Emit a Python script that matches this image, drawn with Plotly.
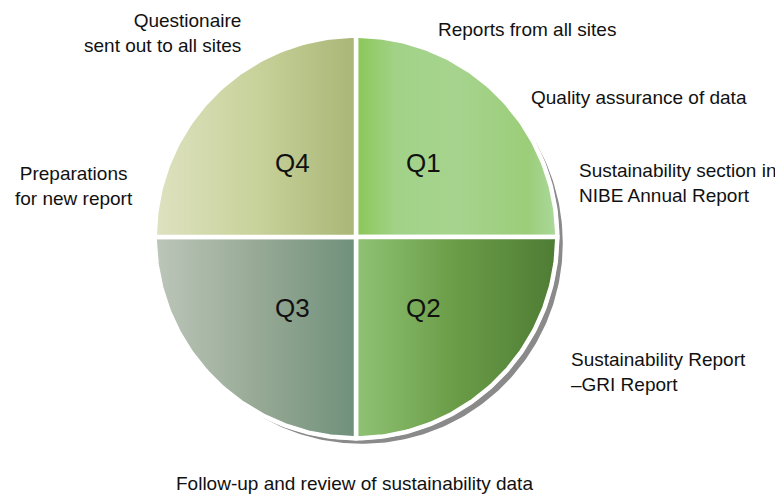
import numpy as np
import plotly.graph_objects as go

# ---------------- data ----------------
quarters = ["Q1", "Q2", "Q3", "Q4"]
shares = [25, 25, 25, 25]
grad_stops = [
    [[0.0, "#8bc757"], [0.2, "#a2d288"], [0.5, "#a6d48e"], [0.85, "#9bcd79"], [1.0, "#abd99c"]],  # Q1
    [[0.0, "#8fc274"], [0.5, "#6a9c47"], [1.0, "#4e7c34"]],                                        # Q2
    [[0.0, "#bcc6b9"], [0.5, "#98aa96"], [1.0, "#6f907b"]],                                        # Q3
    [[0.0, "#dee2c0"], [0.5, "#c8d29b"], [1.0, "#a9b676"]],                                        # Q4
]
activity_texts = [
    "Questionaire<br>sent out to all sites",
    "Reports from all sites",
    "Quality assurance of data",
    "Sustainability section in<br>NIBE Annual Report",
    "Preparations<br>for new report",
    "Sustainability Report<br>–GRI Report",
    "Follow-up and review of sustainability data",
]

# ---------------- layout constants (page pixels) ----------------
W, H = 783, 495
BODY = 8          # default page margin around the plot div
CX, CY, R = 356, 237, 199
GAP = 4.5
FONT = "Liberation Sans, Arial, sans-serif"


def arc(cx, cy, r, a0, a1, n=120):
    t = np.radians(np.linspace(a0, a1, n))
    return cx + r * np.cos(t), cy - r * np.sin(t)


fig = go.Figure()

# shadow (offset gray disc) and white ring
sx, sy = arc(CX + 6, CY + 6, R + 1.8, 0, 360, 360)
fig.add_trace(go.Scatter(x=sx, y=sy, fill="toself", fillcolor="#8a8a8a",
                         line=dict(width=0), mode="lines", hoverinfo="skip"))
wx, wy = arc(CX, CY, R + 4, 0, 360, 360)
fig.add_trace(go.Scatter(x=wx, y=wy, fill="toself", fillcolor="white",
                         line=dict(width=0), mode="lines", hoverinfo="skip"))

# sectors, clockwise from 12 o'clock
total = sum(shares)
start = 90.0
label_pos = []
for q, v, cs in zip(quarters, shares, grad_stops):
    span = 360.0 * v / total
    end = start - span
    ax, ay = arc(CX, CY, R + GAP / 2, start, end)
    xs = np.concatenate([[CX], ax, [CX]])
    ys = np.concatenate([[CY], ay, [CY]])
    fig.add_trace(go.Scatter(
        x=xs, y=ys, fill="toself", mode="lines",
        line=dict(color="white", width=GAP),
        fillgradient=dict(type="horizontal", colorscale=cs),
        name=q, hoverinfo="name",
    ))
    mid = np.radians((start + end) / 2)
    label_pos.append((CX + 2 + 0.466 * R * np.cos(mid),
                      CY - 1.5 - 0.512 * R * np.sin(mid)))
    start = end

for q, (lx, ly) in zip(quarters, label_pos):
    fig.add_annotation(x=lx, y=ly, text=q, showarrow=False, borderpad=0,
                       font=dict(family=FONT, size=26, color="#111111"),
                       xanchor="center", yanchor="middle")

# activity texts
ann = [
    (activity_texts[0], 242, 33, "right", "right"),
    (activity_texts[1], 437, 29, "left", "left"),
    (activity_texts[2], 530, 97, "left", "left"),
    (activity_texts[3], 578, 183, "left", "left"),
    (activity_texts[4], 74, 186, "center", "center"),
    (activity_texts[5], 570, 372, "left", "left"),
    (activity_texts[6], 175, 483, "left", "left"),
]
for txt, x, y, xa, al in ann:
    fig.add_annotation(x=x, y=y, text=txt, showarrow=False, xanchor=xa, align=al,
                       yanchor="middle", borderpad=0,
                       font=dict(family=FONT, size=19, color="#111111"))

fig.update_layout(
    width=W - BODY, height=H - BODY,
    margin=dict(l=0, r=0, t=0, b=0, pad=0),
    paper_bgcolor="white", plot_bgcolor="white",
    showlegend=False,
    xaxis=dict(range=[BODY, W], visible=False, fixedrange=True),
    yaxis=dict(range=[H, BODY], visible=False, fixedrange=True),
)

fig.write_html("out.html")
